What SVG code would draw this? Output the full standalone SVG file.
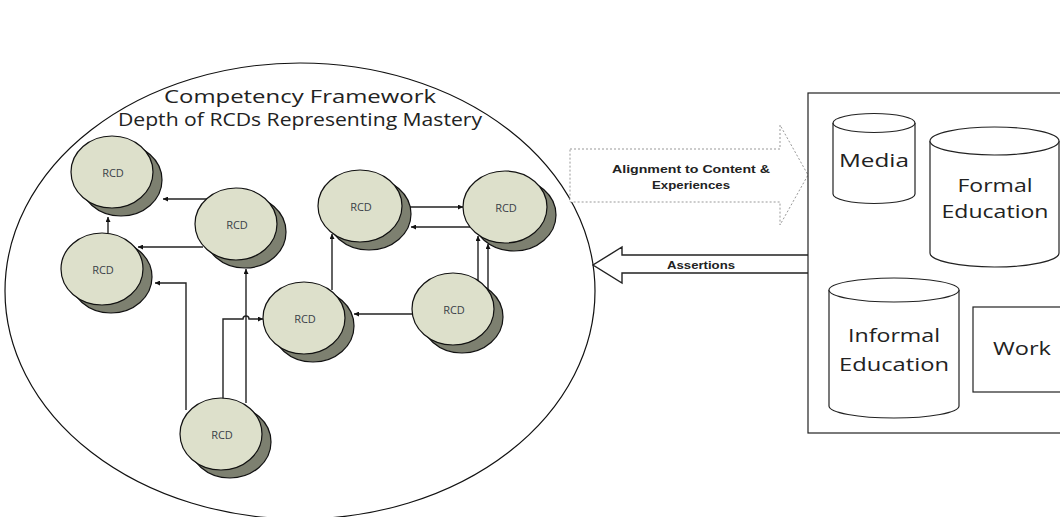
<svg xmlns="http://www.w3.org/2000/svg" width="1060" height="517" viewBox="0 0 1060 517">
<defs>
<style>
.rf{fill:#dde0cb;stroke:#111;stroke-width:1.2}
.rs{fill:#7d8070;stroke:#111;stroke-width:1.2}
.rt{font-family:"Open Sans","Noto Sans",sans-serif;font-size:11px;fill:#3a3f48;text-anchor:middle}
.c{fill:none;stroke:#222;stroke-width:1.4}
.big{font-family:"Open Sans","Noto Sans",sans-serif;font-size:18px;fill:#222;text-anchor:middle}
.src{fill:#fff;stroke:#222;stroke-width:1.2}
.lbl{font-family:"Open Sans","Noto Sans",sans-serif;font-size:19px;fill:#222;text-anchor:middle}
.bold{font-family:"Liberation Sans","Open Sans",sans-serif;font-size:11px;font-weight:bold;fill:#222;text-anchor:middle}
</style>
<marker id="ah" viewBox="0 0 10 10" refX="10" refY="5" markerWidth="5" markerHeight="5" orient="auto" markerUnits="userSpaceOnUse">
<path d="M0,0 L10,5 L0,10 z" fill="#111"/>
</marker>
</defs>
<rect width="1060" height="517" fill="#fff"/>

<g id="framework">
<ellipse cx="300" cy="291" rx="295" ry="228" fill="#fff" stroke="#111" stroke-width="1.2"/>
<text class="big" x="300" y="103" textLength="272" lengthAdjust="spacingAndGlyphs">Competency Framework</text>
<text class="big" x="300" y="126" textLength="364" lengthAdjust="spacingAndGlyphs">Depth of RCDs Representing Mastery</text>
</g>

<g id="connectors">
<path class="c" d="M208,199 H163" marker-end="url(#ah)"/>
<path class="c" d="M108,233 V217" marker-end="url(#ah)"/>
<path class="c" d="M203,247 H138" marker-end="url(#ah)"/>
<path class="c" d="M186,410 V283 H155" marker-end="url(#ah)"/>
<path class="c" d="M246,403 V269" marker-end="url(#ah)"/>
<path class="c" d="M223,399 V319 H243 A3,3 0 0 1 249,319 H263" marker-end="url(#ah)"/>
<path class="c" d="M412,314 H354" marker-end="url(#ah)"/>
<path class="c" d="M332,290 V234" marker-end="url(#ah)"/>
<path class="c" d="M410,207 H463" marker-end="url(#ah)"/>
<path class="c" d="M470,227 H411" marker-end="url(#ah)"/>
<path class="c" d="M478,282 V236" marker-end="url(#ah)"/>
<path class="c" d="M488,290 V244" marker-end="url(#ah)"/>
<path class="c" d="M808,255 H622 V247 L593,265 L622,283 V273 H808" fill="#fff"/>
<path d="M570,149 H780 V125 L808,175 L780,225 V202 H570 z" fill="#fff" stroke="#999" stroke-width="1" stroke-dasharray="2,2"/>
<text class="bold" x="691" y="173" textLength="158" lengthAdjust="spacingAndGlyphs">Alignment to Content &amp;</text>
<text class="bold" x="691" y="189" textLength="78" lengthAdjust="spacingAndGlyphs">Experiences</text>
<text class="bold" x="701" y="269" textLength="68" lengthAdjust="spacingAndGlyphs">Assertions</text>
</g>

<g id="rcd-a"><ellipse class="rs" cx="121" cy="180" rx="41" ry="36"/><ellipse class="rf" cx="112" cy="172" rx="41" ry="36"/><text class="rt" x="113" y="177">RCD</text></g>
<g id="rcd-b"><ellipse class="rs" cx="245" cy="232" rx="41" ry="36"/><ellipse class="rf" cx="236" cy="224" rx="41" ry="36"/><text class="rt" x="237" y="229">RCD</text></g>
<g id="rcd-c"><ellipse class="rs" cx="111" cy="277" rx="41" ry="36"/><ellipse class="rf" cx="102" cy="269" rx="41" ry="36"/><text class="rt" x="103" y="274">RCD</text></g>
<g id="rcd-d"><ellipse class="rs" cx="369" cy="214" rx="42" ry="36"/><ellipse class="rf" cx="360" cy="206" rx="42" ry="36"/><text class="rt" x="361" y="211">RCD</text></g>
<g id="rcd-e"><ellipse class="rs" cx="514" cy="215" rx="42" ry="36"/><ellipse class="rf" cx="505" cy="207" rx="42" ry="36"/><text class="rt" x="506" y="212">RCD</text></g>
<g id="rcd-f"><ellipse class="rs" cx="313" cy="326" rx="41" ry="36"/><ellipse class="rf" cx="304" cy="318" rx="41" ry="36"/><text class="rt" x="305" y="323">RCD</text></g>
<g id="rcd-g"><ellipse class="rs" cx="462" cy="317" rx="41" ry="36"/><ellipse class="rf" cx="453" cy="309" rx="41" ry="36"/><text class="rt" x="454" y="314">RCD</text></g>
<g id="rcd-h"><ellipse class="rs" cx="230" cy="442" rx="41" ry="36"/><ellipse class="rf" cx="221" cy="434" rx="41" ry="36"/><text class="rt" x="222" y="439">RCD</text></g>

<g id="sources">
<rect x="808" y="93" width="260" height="340" fill="#fff" stroke="#222" stroke-width="1.2"/>
</g>
<g id="media">
<path class="src" d="M833,123 V194 A41,9.5 0 0 0 915,194 V123 A41,9.5 0 0 0 833,123 z"/>
<path class="src" d="M833,123 A41,9.5 0 0 0 915,123"/>
<text class="lbl" x="874" y="167" textLength="70" lengthAdjust="spacingAndGlyphs">Media</text>
</g>
<g id="formal-education">
<path class="src" d="M930,141 V253 A64.5,14 0 0 0 1059,253 V141 A64.5,14 0 0 0 930,141 z"/>
<path class="src" d="M930,141 A64.5,14 0 0 0 1059,141"/>
<text class="lbl" x="995" y="192" textLength="75" lengthAdjust="spacingAndGlyphs">Formal</text>
<text class="lbl" x="995" y="218" textLength="107" lengthAdjust="spacingAndGlyphs">Education</text>
</g>
<g id="informal-education">
<path class="src" d="M829,290 V406 A65,12 0 0 0 959,406 V290 A65,12 0 0 0 829,290 z"/>
<path class="src" d="M829,290 A65,12 0 0 0 959,290"/>
<text class="lbl" x="894" y="342" textLength="92" lengthAdjust="spacingAndGlyphs">Informal</text>
<text class="lbl" x="894" y="371" textLength="110" lengthAdjust="spacingAndGlyphs">Education</text>
</g>
<g id="work">
<rect x="973" y="307" width="100" height="85" class="src"/>
<text class="lbl" x="1022" y="355" textLength="58" lengthAdjust="spacingAndGlyphs">Work</text>
</g>
</svg>
